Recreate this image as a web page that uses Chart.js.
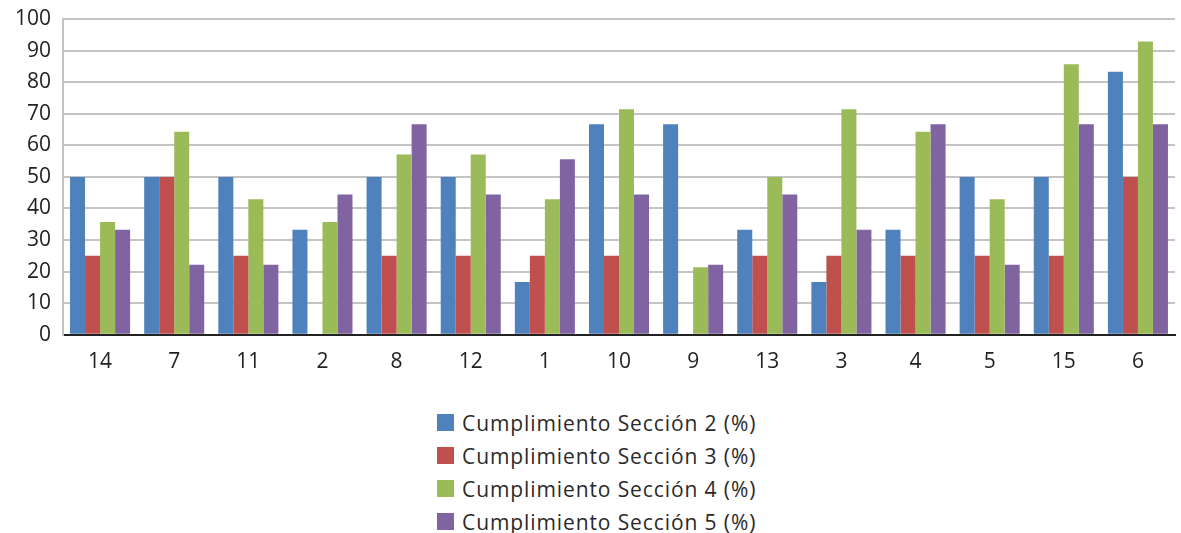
<!DOCTYPE html>
<html>
<head>
<meta charset="utf-8">
<script src="https://cdn.jsdelivr.net/npm/chart.js@4"></script>
<style>
  html, body { margin: 0; padding: 0; background: #fff; }
  #wrap { position: relative; width: 1181px; height: 533px; }
  #c { position: absolute; left: 0; top: 0; }
  #legend {
    position: absolute; left: 437px; top: 408px;
    font-family: "Open Sans", sans-serif; font-size: 21px; letter-spacing: 0.9px; color: #2a2a2a;
    display: flex; flex-direction: column; gap: 4px;
  }
  .item { display: flex; align-items: center; height: 29px; }
  .box { width: 17px; height: 17px; margin-right: 8px; }
</style>
</head>
<body>
<div id="wrap">
  <canvas id="c" width="1181" height="390"></canvas>
  <div id="legend"></div>
</div>
<script>
const categories = ['14', '7', '11', '2', '8', '12', '1', '10', '9', '13', '3', '4', '5', '15', '6'];
const seriesNames = [
  'Cumplimiento Sección 2 (%)',
  'Cumplimiento Sección 3 (%)',
  'Cumplimiento Sección 4 (%)',
  'Cumplimiento Sección 5 (%)'
];
const seccion2 = [50, 50, 50, 33.3, 50, 50, 16.7, 66.7, 66.7, 33.3, 16.7, 33.3, 50, 50, 83.3];
const seccion3 = [25, 50, 25, 0, 25, 25, 25, 25, 0, 25, 25, 25, 25, 25, 50];
const seccion4 = [35.7, 64.3, 42.9, 35.7, 57.1, 57.1, 42.9, 71.4, 21.4, 50, 71.4, 64.3, 42.9, 85.7, 92.9];
const seccion5 = [33.3, 22.2, 22.2, 44.4, 66.7, 44.4, 55.6, 44.4, 22.2, 44.4, 33.3, 66.7, 22.2, 66.7, 66.7];
const yTicks = [0, 10, 20, 30, 40, 50, 60, 70, 80, 90, 100];

const colors = ['#4F81BD', '#C0504D', '#9BBB59', '#8064A2'];
const series = [seccion2, seccion3, seccion4, seccion5];

const datasets = series.map((vals, i) => ({
  label: seriesNames[i],
  data: vals,
  backgroundColor: colors[i],
  borderWidth: 0,
  categoryPercentage: 0.81,
  barPercentage: 1.0
}));

const font = { family: '"Open Sans", sans-serif', size: 21 };

new Chart(document.getElementById('c'), {
  type: 'bar',
  data: { labels: categories, datasets },
  options: {
    responsive: false,
    animation: false,
    devicePixelRatio: 1,
    layout: { padding: { left: 0, right: 6, top: 19, bottom: 0 } },
    plugins: { legend: { display: false }, tooltip: { enabled: false } },
    scales: {
      x: {
        grid: { display: false, drawTicks: false },
        border: { display: true, color: '#222', width: 2 },
        ticks: { color: '#222', font, padding: 15 }
      },
      y: {
        min: 0, max: 100,
        afterBuildTicks: s => { s.ticks = yTicks.map(v => ({ value: v })); },
        afterFit: s => { s.width = 63; s.paddingTop = 0; s.paddingBottom = 0; },
        grid: { color: '#c4c4c4', lineWidth: 2, drawTicks: false },
        border: { display: true, color: '#c4c4c4', width: 2 },
        ticks: { color: '#222', font, padding: 12 }
      }
    }
  }
});

const legend = document.getElementById('legend');
seriesNames.forEach((name, i) => {
  const item = document.createElement('div');
  item.className = 'item';
  const box = document.createElement('span');
  box.className = 'box';
  box.style.background = colors[i];
  const txt = document.createElement('span');
  txt.textContent = name;
  item.appendChild(box);
  item.appendChild(txt);
  legend.appendChild(item);
});
</script>
</body>
</html>
